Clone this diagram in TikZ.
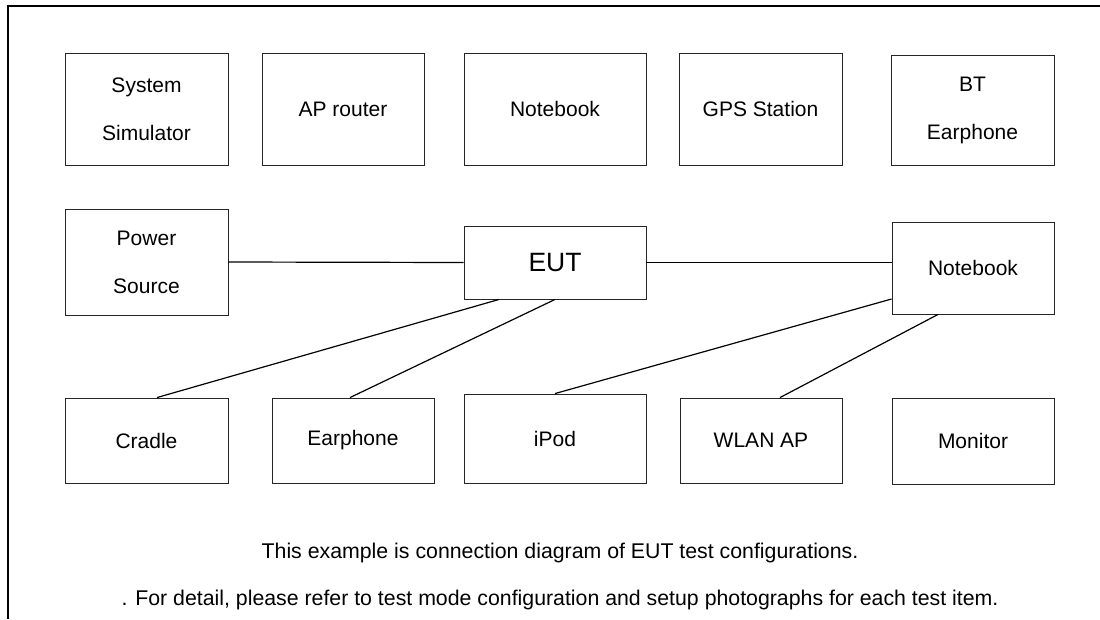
\documentclass[tikz,border=0pt]{standalone}
\usepackage{fontspec}
\setmainfont{Liberation Sans}
\usetikzlibrary{calc}
\begin{document}
\begin{tikzpicture}[x=1pt,y=-1pt,
  box/.style={draw=black!85,line width=0.9pt,rectangle,inner sep=0pt,align=center,
    font=\fontsize{21}{48}\selectfont},
  link/.style={draw=black,line width=1.2pt},
  frame/.style={draw=black,line width=2pt},
  note/.style={font=\fontsize{21.3}{24}\selectfont,inner sep=0pt}]
\useasboundingbox (0,0) rectangle (1100,619);
\draw[frame] (8,619) -- (8,6) -- (1100,6);
% top row
\node[box,minimum width=163,minimum height=112] (sys) at (146.5,109) {System\\Simulator};
\node[box,minimum width=162,minimum height=112] (ap) at (343,109) {AP router};
\node[box,minimum width=182,minimum height=112] (nbtop) at (555,109) {Notebook};
\node[box,minimum width=163,minimum height=112] (gps) at (760.5,109) {GPS Station};
\node[box,minimum width=163,minimum height=110] (bt) at (972.5,110) {BT\\Earphone};
% middle row
\node[box,minimum width=163,minimum height=106] (power) at (146.5,262) {Power\\Source};
\node[box,minimum width=182,minimum height=73,font=\fontsize{26.5}{30}\selectfont] (eut) at (555,262.5) {EUT};
\node[box,minimum width=162,minimum height=92] (nb) at (973,268) {Notebook};
% bottom row
\node[box,minimum width=163,minimum height=85] (cradle) at (146.5,440.5) {Cradle};
\node[box,minimum width=162,minimum height=85] (ear) at (353,440.5) {Earphone};
\node[box,minimum width=182,minimum height=89] (ipod) at (555,438.5) {iPod};
\node[box,minimum width=162,minimum height=85] (wlan) at (761,440.5) {WLAN AP};
\node[box,minimum width=162,minimum height=86] (mon) at (973,441) {Monitor};
% connectors
\draw[link] (power.east) -- (eut.west);
\draw[link] (eut.east) -- (eut.east -| nb.west);
\draw[link] ([xshift=-56pt]eut.south) -- ([xshift=10.5pt]cradle.north);
\draw[link] (eut.south) -- ([xshift=-3pt]ear.north);
\draw[link] ([yshift=-31pt]nb.west) -- (ipod.north);
\draw[link] ([xshift=-35pt]nb.south) -- ([xshift=19pt]wlan.north);
% notes
\node[note] (n1) at (560,553) {This example is connection diagram of EUT test configurations.};
\node[note] (n2) at (560,600) {. For detail, please refer to test mode configuration and setup photographs for each test item.};
\end{tikzpicture}
\end{document}
